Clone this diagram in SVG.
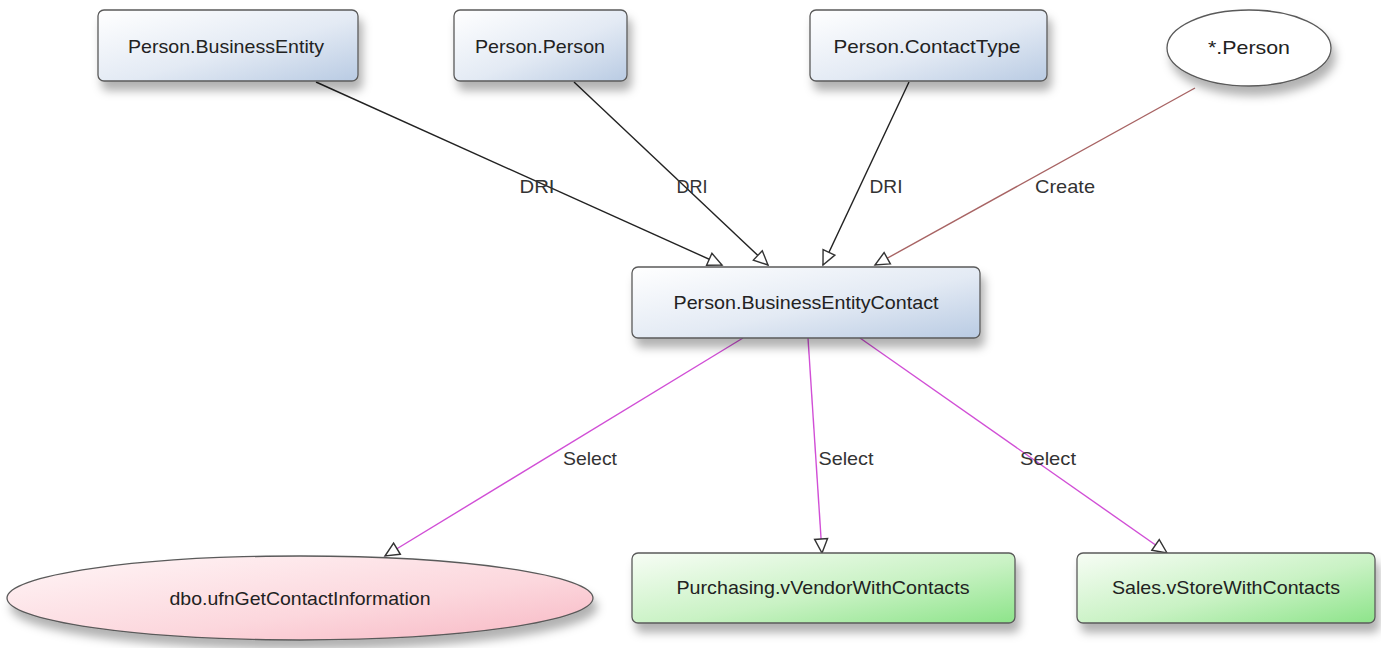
<svg xmlns="http://www.w3.org/2000/svg" width="1381" height="648" viewBox="0 0 1381 648">
<defs>
<linearGradient id="gBlue" x1="0" y1="0" x2="1" y2="1">
<stop offset="0" stop-color="#ffffff"/>
<stop offset="0.55" stop-color="#e3eaf4"/>
<stop offset="1" stop-color="#b9cbe3"/>
</linearGradient>
<linearGradient id="gGreen" x1="0" y1="0" x2="1" y2="1">
<stop offset="0" stop-color="#f7fdf5"/>
<stop offset="0.55" stop-color="#c9f2c4"/>
<stop offset="1" stop-color="#8de48a"/>
</linearGradient>
<linearGradient id="gPink" x1="0" y1="0" x2="1" y2="1">
<stop offset="0" stop-color="#fff6f7"/>
<stop offset="0.6" stop-color="#fcd7dd"/>
<stop offset="1" stop-color="#f7b7c3"/>
</linearGradient>
<filter id="sh" x="-10%" y="-20%" width="125%" height="160%">
<feDropShadow dx="4" dy="9" stdDeviation="5" flood-color="#000" flood-opacity="0.3"/>
</filter>
<marker id="arr" markerUnits="userSpaceOnUse" markerWidth="18" markerHeight="16" viewBox="0 0 18 16" refX="16" refY="8" orient="auto">
<path d="M2,1.5 L16,8 L2,14.5 Z" fill="#fff" stroke="#333" stroke-width="1.4"/>
</marker>
</defs>
<style>
.box{stroke:#5a5a5a;stroke-width:1.3;filter:url(#sh)}
.blue{fill:url(#gBlue)}
.green{fill:url(#gGreen)}
.pink{fill:url(#gPink)}
.t{font-family:"Liberation Sans",Arial,sans-serif;font-size:19px;fill:#222;text-anchor:middle}
.lbl{font-family:"Liberation Sans",Arial,sans-serif;font-size:19px;fill:#333;text-anchor:middle}
.ln{fill:none;stroke-width:1.4;marker-end:url(#arr)}
.dri{stroke:#222}
.cre{stroke:#a86464}
.sel{stroke:#d14fd6}
</style>
<rect width="1381" height="648" fill="#fff"/>

<g id="connectors">
<line class="ln dri" x1="316" y1="82" x2="722" y2="265"/>
<line class="ln dri" x1="574" y1="82" x2="768" y2="265"/>
<line class="ln dri" x1="909" y1="82" x2="823" y2="265"/>
<line class="ln cre" x1="1195" y1="88" x2="875" y2="265"/>
<line class="ln sel" x1="743" y1="338" x2="385" y2="556"/>
<line class="ln sel" x1="808" y1="338" x2="822" y2="553"/>
<line class="ln sel" x1="860" y1="338" x2="1167" y2="553"/>
<text class="lbl" x="537" y="193" textLength="35" lengthAdjust="spacingAndGlyphs">DRI</text>
<text class="lbl" x="692" y="193" textLength="31" lengthAdjust="spacingAndGlyphs">DRI</text>
<text class="lbl" x="886" y="193" textLength="33" lengthAdjust="spacingAndGlyphs">DRI</text>
<text class="lbl" x="1065" y="193" textLength="60" lengthAdjust="spacingAndGlyphs">Create</text>
<text class="lbl" x="590" y="465" textLength="54" lengthAdjust="spacingAndGlyphs">Select</text>
<text class="lbl" x="846" y="465" textLength="55" lengthAdjust="spacingAndGlyphs">Select</text>
<text class="lbl" x="1048" y="465" textLength="56" lengthAdjust="spacingAndGlyphs">Select</text>
</g>

<g id="n_businessentity">
<rect class="box blue" x="98" y="10" width="260" height="71" rx="6"/>
<text class="t" x="226" y="53" textLength="196" lengthAdjust="spacingAndGlyphs">Person.BusinessEntity</text>
</g>
<g id="n_person">
<rect class="box blue" x="454" y="10" width="173" height="71" rx="6"/>
<text class="t" x="540" y="53" textLength="130" lengthAdjust="spacingAndGlyphs">Person.Person</text>
</g>
<g id="n_contacttype">
<rect class="box blue" x="810" y="10" width="237" height="71" rx="6"/>
<text class="t" x="927" y="53" textLength="187" lengthAdjust="spacingAndGlyphs">Person.ContactType</text>
</g>
<g id="n_starperson">
<ellipse class="box" cx="1249" cy="48" rx="82" ry="38" fill="#fff"/>
<text class="t" x="1249" y="54" textLength="82" lengthAdjust="spacingAndGlyphs">*.Person</text>
</g>
<g id="n_bec">
<rect class="box blue" x="632" y="267" width="348" height="71" rx="6"/>
<text class="t" x="806" y="309" textLength="265" lengthAdjust="spacingAndGlyphs">Person.BusinessEntityContact</text>
</g>
<g id="n_ufn">
<ellipse class="box pink" cx="300" cy="598" rx="293" ry="42"/>
<text class="t" x="300" y="605" textLength="261" lengthAdjust="spacingAndGlyphs">dbo.ufnGetContactInformation</text>
</g>
<g id="n_vendor">
<rect class="box green" x="632" y="553" width="383" height="70" rx="6"/>
<text class="t" x="823" y="594" textLength="293" lengthAdjust="spacingAndGlyphs">Purchasing.vVendorWithContacts</text>
</g>
<g id="n_store">
<rect class="box green" x="1077" y="553" width="298" height="70" rx="6"/>
<text class="t" x="1226" y="594" textLength="228" lengthAdjust="spacingAndGlyphs">Sales.vStoreWithContacts</text>
</g>
</svg>
